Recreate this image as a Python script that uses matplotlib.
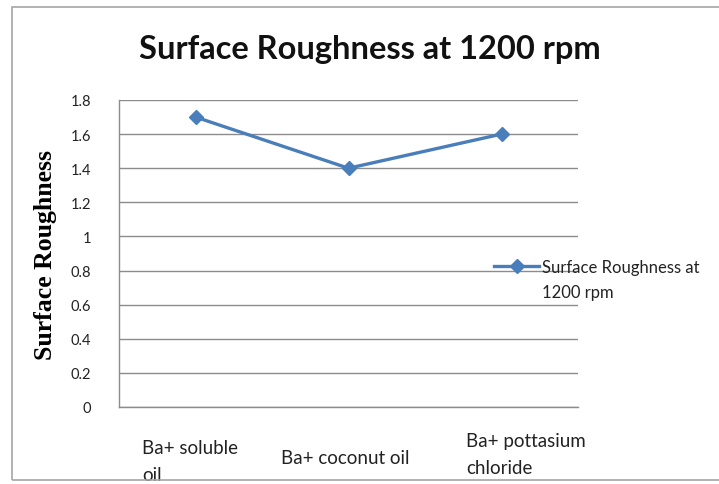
import matplotlib.pyplot as plt
from matplotlib.patches import Rectangle
from matplotlib.transforms import blended_transform_factory

categories = ['Ba+ soluble\noil', 'Ba+ coconut oil', 'Ba+ pottasium\nchloride']
roughness = [1.7, 1.4, 1.6]
series_name = 'Surface Roughness at'
series_name_2 = '1200 rpm'
yticks = [0, 0.2, 0.4, 0.6, 0.8, 1.0, 1.2, 1.4, 1.6, 1.8]
ytick_labels = ['0', '0.2', '0.4', '0.6', '0.8', '1', '1.2', '1.4', '1.6', '1.8']

W, H = 719, 485
fig = plt.figure(figsize=(W / 100, H / 100), dpi=100)
fig.patch.set_facecolor('white')

# outer chart frame (excel style)
fig.patches.append(Rectangle((12 / W, 1 - 481 / H), 720 / W, (481 - 8) / H,
                             transform=fig.transFigure, fill=False,
                             edgecolor='#a6a6a6', linewidth=1.2))

ax = fig.add_axes([119 / W, 1 - 408 / H, (578 - 119) / W, (408 - 101) / H])
x = list(range(len(categories)))
ax.plot(x, roughness, color='#4a7ebb', linewidth=2.4, marker='D', markersize=7,
        label=series_name, zorder=3)

ax.set_xlim(-0.5, len(categories) - 0.5)
ax.set_ylim(0, 1.8)
ax.set_yticks(yticks)
ax.set_yticklabels(ytick_labels, fontfamily='Lato', fontsize=10.5, color='#222222')
ax.tick_params(axis='y', length=0, pad=20)
ax.set_xticks([])
ax.grid(axis='y', color='#8c8c8c', linewidth=1)
ax.set_axisbelow(True)
for s in ['top', 'right']:
    ax.spines[s].set_visible(False)
for s in ['left', 'bottom']:
    ax.spines[s].set_color('#8c8c8c')
    ax.spines[s].set_linewidth(1)

# category labels, placed like excel's wrapped labels
trans = blended_transform_factory(ax.transData, fig.transFigure)
label_tops = [440, 450, 433]
label_dx = [-0.35, -0.44, -0.23]
for i, (lab, top) in enumerate(zip(categories, label_tops)):
    ax.text(i + label_dx[i], 1 - top / H, lab, transform=trans, ha='left', va='top',
            fontfamily='Lato', fontsize=13.5, color='#222222',
            linespacing=1.75, clip_on=False)

ax.set_ylabel('Surface Roughness', fontfamily='Liberation Serif', fontweight='bold',
              fontsize=18.5, va='center')
ax.yaxis.set_label_coords((46 - 119) / 459, 0.5)

fig.text(370 / W, 1 - 50 / H, 'Surface Roughness at 1200 rpm', ha='center', va='center',
         fontfamily='Lato', fontweight='bold', fontsize=23.5, color='#111111')

leg = ax.legend(loc='center left', bbox_to_anchor=(486 / W, 1 - 268 / H),
                bbox_transform=fig.transFigure, frameon=False, handlelength=2.7,
                handletextpad=0.15, borderpad=0, prop={'family': 'Lato', 'size': 12})
leg_text = leg.get_texts()[0]
leg_text.set_color('#222222')

fig.canvas.draw()
bb = leg_text.get_window_extent()
fig.text(bb.x0 / (W), (bb.y0 - 25) / H, series_name_2, ha='left', va='bottom',
         fontfamily='Lato', fontsize=12, color='#222222')

fig.savefig('out.png', dpi=100, facecolor='white')
